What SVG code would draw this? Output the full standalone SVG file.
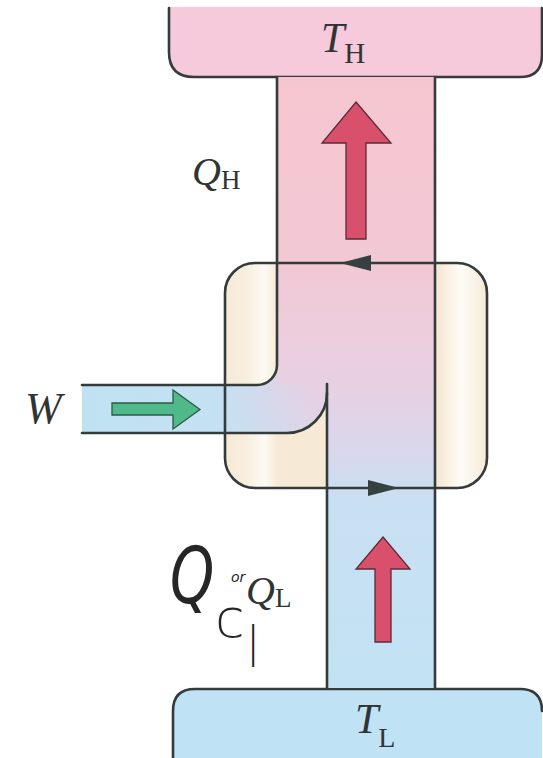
<svg xmlns="http://www.w3.org/2000/svg" width="543" height="758" viewBox="0 0 543 758">
<style>
.ln{fill:none;stroke:#353b3b;stroke-width:2.6;stroke-linecap:round;stroke-linejoin:round}
.lbl{font-family:"Liberation Serif","Times New Roman",serif;fill:#2f3535}
.it{font-style:italic}
.hand{font-family:"DejaVu Sans ExtraLight","DejaVu Sans","Liberation Sans",sans-serif;fill:#262626;font-weight:200}
.tri{fill:#354040}
</style>
<defs>
<linearGradient id="boxG" x1="225" y1="0" x2="487" y2="0" gradientUnits="userSpaceOnUse">
<stop offset="0" stop-color="#f6ead6"/>
<stop offset="0.08" stop-color="#f8eedd"/>
<stop offset="0.15" stop-color="#fdfaf4"/>
<stop offset="0.2" stop-color="#f6ead6"/>
<stop offset="0.82" stop-color="#f6ead6"/>
<stop offset="0.9" stop-color="#fefcf8"/>
<stop offset="1" stop-color="#f6ead6"/>
</linearGradient>
<linearGradient id="fluidG" x1="0" y1="77" x2="0" y2="688" gradientUnits="userSpaceOnUse">
<stop offset="0" stop-color="#f5c6d0"/>
<stop offset="0.3" stop-color="#f2c8d4"/>
<stop offset="0.5" stop-color="#e8d0e2"/>
<stop offset="0.62" stop-color="#d8d8ec"/>
<stop offset="0.7" stop-color="#c8e0f2"/>
<stop offset="1" stop-color="#c2e2f3"/>
</linearGradient>
<linearGradient id="pipeG" x1="82" y1="0" x2="310" y2="0" gradientUnits="userSpaceOnUse">
<stop offset="0" stop-color="#bfe2f3"/>
<stop offset="0.6" stop-color="#c4e1f3"/>
<stop offset="1" stop-color="#c4e1f3" stop-opacity="0"/>
</linearGradient>
</defs>

<g id="hot-reservoir">
<path d="M169,7 V52 Q169,77 194,77 H520 Q542,77 542,55 V7 Z" fill="#f6cadb"/>
<path class="ln" d="M169,8 V52 Q169,77 194,77 H520 Q542,77 542,55 V8"/>
</g>

<g id="cold-reservoir">
<path d="M173,758 V711 Q173,689 195,689 H520 Q542,689 542,711 V758 Z" fill="#bfe3f5"/>
<path class="ln" d="M173,758 V711 Q173,689 195,689 H520 Q542,689 542,711"/>
</g>

<g id="engine">
<rect x="225" y="263" width="262" height="225" rx="30" fill="url(#boxG)"/>
</g>

<g id="working-fluid">
<path d="M277,77 H435 V688 H327 V393 A40,40 0 0 1 287,433 H82 V385 H257 A20,20 0 0 0 277,365 Z" fill="url(#fluidG)"/>
<path d="M82,385 H257 A20,20 0 0 0 277,365 V385 H310 V433 H287 H82 Z" fill="url(#pipeG)"/>
</g>

<g id="engine-outline">
<rect x="225" y="263" width="262" height="225" rx="30" class="ln"/>
</g>

<g id="connectors">
<path class="ln" d="M277,77 V365 A20,20 0 0 1 257,385 H82"/>
<path class="ln" d="M82,433 H287 A40,40 0 0 0 327,393"/>
<path class="ln" d="M327,384 V688"/>
<path class="ln" d="M435,77 V688"/>
<polygon class="tri" points="340,263 371,255 371,271"/>
<polygon class="tri" points="399,488 368,480 368,496"/>
<polygon points="356,102 391,143 366,143 366,239 346,239 346,143 322,143" fill="#d9506d" stroke="#5b2a36" stroke-width="1.3" stroke-linejoin="miter"/>
<polygon points="383,537 410,569 391,569 391,642 375,642 375,569 356,569" fill="#d9506d" stroke="#5b2a36" stroke-width="1.3"/>
<polygon points="112,403 173,403 173,390 200,409.5 173,429 173,415 112,415" fill="#4fb98a" stroke="#2d5a48" stroke-width="1.3"/>
</g>

<g id="labels">
<text class="lbl" x="321" y="52" font-size="42"><tspan class="it">T</tspan><tspan font-size="29" dy="11">H</tspan></text>
<text class="lbl" x="192" y="185" font-size="40"><tspan class="it">Q</tspan><tspan font-size="27" dy="4">H</tspan></text>
<text class="lbl it" x="25" y="423" font-size="44">W</text>
<text class="lbl" x="246" y="604" font-size="40"><tspan class="it">Q</tspan><tspan font-size="27" dy="3">L</tspan></text>
<text class="lbl" x="355" y="733" font-size="42"><tspan class="it">T</tspan><tspan font-size="28" dy="14">L</tspan></text>
</g>

<g id="handwriting">
<text class="hand" transform="translate(170,603) scale(0.72,1)" font-size="78" font-style="italic">Q</text>
<text class="hand" x="215" y="637" font-size="54">c</text>
<text class="hand" x="231" y="582" font-size="14" font-style="italic">or</text>
<text class="hand" x="246" y="657" font-size="42">|</text>
</g>
</svg>
